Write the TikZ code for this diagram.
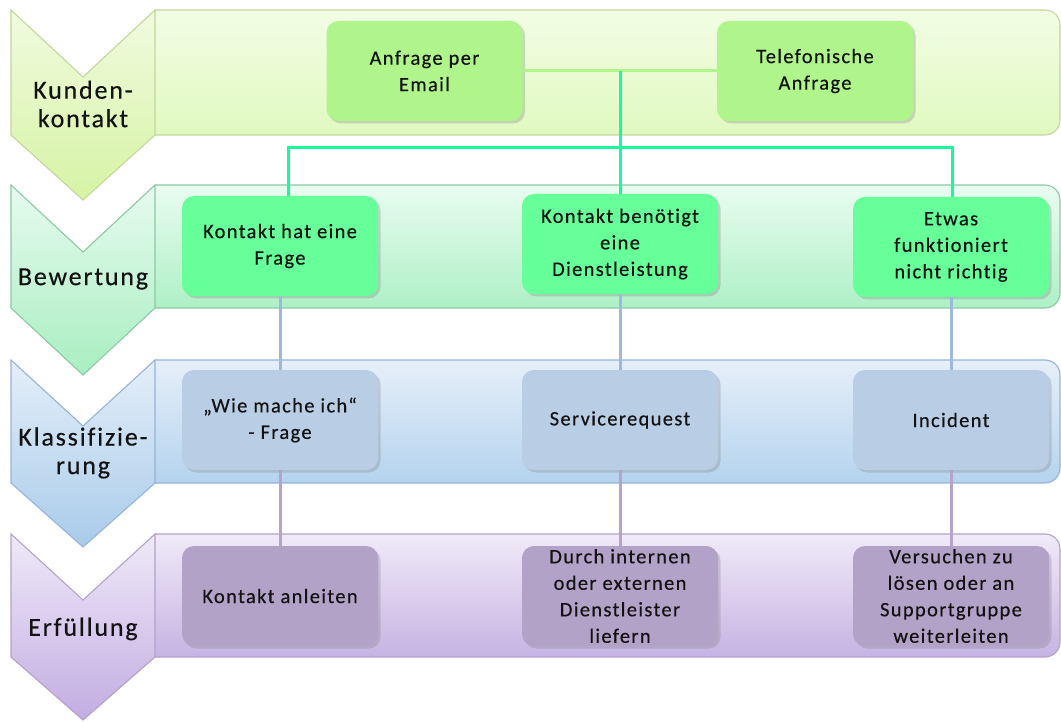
\documentclass[tikz,border=0pt]{standalone}
\usepackage{fontspec}
\setmainfont{Carlito}[LetterSpace=6.5, Ligatures=NoCommon, FakeBold=0.35]
\newfontfamily\stagefont{Carlito}[LetterSpace=7, Ligatures=NoCommon, FakeBold=0.35]
\usetikzlibrary{shadows}

% stage colours: border, gradient top, gradient bottom, box fill
\definecolor{txt}{HTML}{121212}
\definecolor{aBorder}{HTML}{C3D69B}
\definecolor{aTop}{HTML}{F2FDE4}
\definecolor{aBot}{HTML}{E0F9C0}
\definecolor{aCTop}{HTML}{F0FBE0}
\definecolor{aCBot}{HTML}{D6F3A4}
\definecolor{aBox}{HTML}{AFF58B}
\definecolor{bBorder}{HTML}{8CC8A4}
\definecolor{bTop}{HTML}{E9FCF0}
\definecolor{bBot}{HTML}{AEF0C6}
\definecolor{bCTop}{HTML}{E6FBEE}
\definecolor{bCBot}{HTML}{A9EEC1}
\definecolor{bBox}{HTML}{66FF99}
\definecolor{cBorder}{HTML}{95B3D7}
\definecolor{cTop}{HTML}{E6EFF9}
\definecolor{cBot}{HTML}{B4D3EE}
\definecolor{cCTop}{HTML}{E4EEF9}
\definecolor{cCBot}{HTML}{A9CBEA}
\definecolor{cBox}{HTML}{B9CDE5}
\definecolor{dBorder}{HTML}{B3A2C7}
\definecolor{dTop}{HTML}{F0EAF8}
\definecolor{dBot}{HTML}{C6B3E3}
\definecolor{dCTop}{HTML}{EFE9F8}
\definecolor{dCBot}{HTML}{C2ADE2}
\definecolor{dBox}{HTML}{B3A2C7}
% connector colours
\definecolor{lnLight}{HTML}{AFF58B}
\definecolor{lnGreen}{HTML}{1AFA9C}
\definecolor{lnBlue}{HTML}{9DB9DB}
\definecolor{lnPurple}{HTML}{B5A3CB}

\begin{document}
\begin{tikzpicture}[x=1pt,y=-1pt,
  stageline/.style={line width=1.1pt, line join=miter},
  box/.style={rounded corners=12pt, minimum width=196pt, minimum height=100pt,
    inner sep=0pt, drop shadow={shadow xshift=2.5pt, shadow yshift=-2.5pt, opacity=0.3}},
  boxtext/.style={align=center, inner sep=0pt, text=txt,
    font=\fontsize{20.5}{26.5}\selectfont},
  stagetext/.style={align=center, inner sep=0pt, text=txt,
    font=\stagefont\fontsize{26}{28.5}\selectfont},
  link/.style={line width=3pt}
]
\useasboundingbox (0,0) rectangle (1061,722);

% ---- stage bands (clipped so they start at the chevron edge) ----
\begin{scope}
  \clip (155,0) rectangle (1070,722);
  \draw[stageline, draw=aBorder, top color=aTop, bottom color=aBot, rounded corners=15pt]
    (120,10) rectangle (1060,135);
  \draw[stageline, draw=bBorder, top color=bTop, bottom color=bBot, rounded corners=15pt]
    (120,185) rectangle (1060,308);
  \draw[stageline, draw=cBorder, top color=cTop, bottom color=cBot, rounded corners=15pt]
    (120,360) rectangle (1060,483);
  \draw[stageline, draw=dBorder, top color=dTop, bottom color=dBot, rounded corners=15pt]
    (120,534) rectangle (1060,657);
\end{scope}

% ---- chevrons ----
\draw[stageline, draw=aBorder, top color=aCTop, bottom color=aCBot]
  (11,10) -- (83,77) -- (155,10) -- (155,135) -- (83,200) -- (11,135) -- cycle;
\draw[stageline, draw=bBorder, top color=bCTop, bottom color=bCBot]
  (11,185) -- (83,252) -- (155,185) -- (155,308) -- (83,375) -- (11,308) -- cycle;
\draw[stageline, draw=cBorder, top color=cCTop, bottom color=cCBot]
  (11,360) -- (83,426) -- (155,360) -- (155,483) -- (83,547) -- (11,483) -- cycle;
\draw[stageline, draw=dBorder, top color=dCTop, bottom color=dCBot]
  (11,534) -- (83,600) -- (155,534) -- (155,657) -- (83,720) -- (11,657) -- cycle;

\node[stagetext] (s1) at (83,104) {Kunden-\\kontakt};
\node[stagetext] (s2) at (83,279) {Bewertung};
\node[stagetext] (s3) at (83,453) {Klassifizie-\\rung};
\node[stagetext] (s4) at (83,629) {Erfüllung};

% ---- boxes ----
\node[box, fill=aBox] (q11) at (424.5,71) {};
\node[box, fill=aBox] (q12) at (815,71) {};

\node[box, fill=bBox] (q21) at (280,246) {};
\node[box, fill=bBox] (q22) at (620,244) {};
\node[box, fill=bBox] (q23) at (951,247) {};

\node[box, fill=cBox] (q31) at (280,420) {};
\node[box, fill=cBox] (q32) at (620,420) {};
\node[box, fill=cBox] (q33) at (951,420) {};

\node[box, fill=dBox] (q41) at (280,596) {};
\node[box, fill=dBox] (q42) at (620,596) {};
\node[box, fill=dBox] (q43) at (951,596) {};

% ---- box texts ----
\node[boxtext] (t11) at (q11.center) {Anfrage per\\Email};
\node[boxtext] (t12) at (q12.center) {Telefonische\\Anfrage};
\node[boxtext] (t21) at (q21.center) {Kontakt hat eine\\Frage};
\node[boxtext] (t22) at (q22.center) {Kontakt benötigt\\eine\\Dienstleistung};
\node[boxtext] (t23) at (q23.center) {Etwas\\funktioniert\\nicht richtig};
\node[boxtext] (t31) at (q31.center) {„Wie mache ich“\\- Frage};
\node[boxtext] (t32) at (q32.center) {Servicerequest};
\node[boxtext] (t33) at (q33.center) {Incident};
\node[boxtext] (t41) at (q41.center) {Kontakt anleiten};
\node[boxtext] (t42) at (q42.center) {Durch internen\\oder externen\\Dienstleister\\liefern};
\node[boxtext] (t43) at (q43.center) {Versuchen zu\\lösen oder an\\Supportgruppe\\weiterleiten};

% ---- connectors ----
\coordinate (join) at (620,71);
\coordinate (forkL) at (288,148);
\coordinate (forkR) at (952,148);

\draw[link, lnLight] (q11.east) -- (q12.west);
\draw[link, lnGreen] (join) -- (q22.north);
\draw[link, lnGreen] (forkL |- q21.north) -- (forkL) -- (forkR) -- (forkR |- q23.north);

\draw[link, lnBlue] (q21.south) -- (q31.north);
\draw[link, lnBlue] (q22.south) -- (q32.north);
\draw[link, lnBlue] (q23.south) -- (q33.north);

\draw[link, lnPurple] (q31.south) -- (q41.north);
\draw[link, lnPurple] (q32.south) -- (q42.north);
\draw[link, lnPurple] (q33.south) -- (q43.north);

\end{tikzpicture}
\end{document}
